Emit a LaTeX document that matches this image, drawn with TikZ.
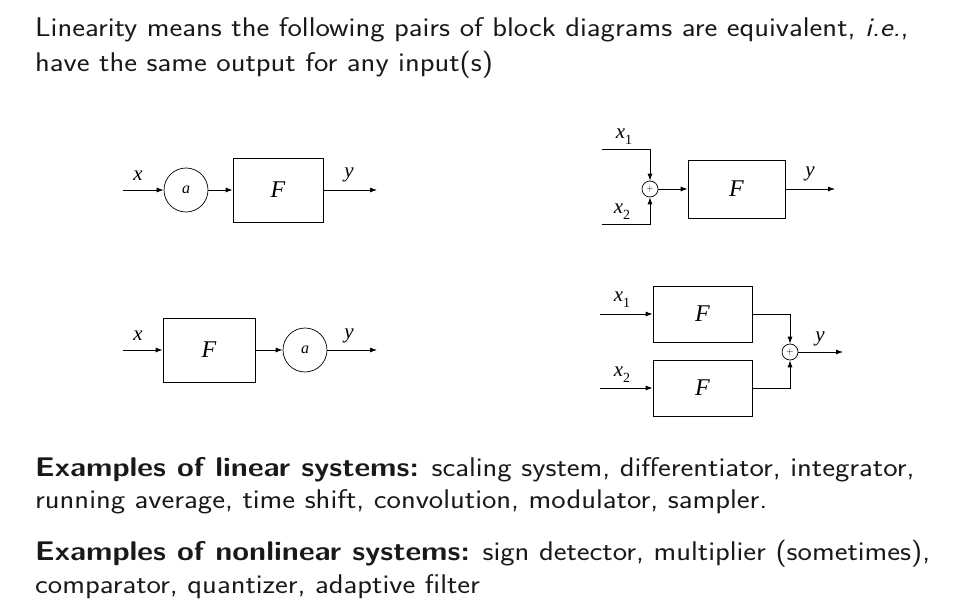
\documentclass[tikz,border=0pt]{standalone}
\usepackage{fontspec}
\newfontfamily\tms{Liberation Serif}
\usetikzlibrary{arrows.meta}
\newcommand{\wide}[1]{\scalebox{1.13}[1]{#1}}
\begin{document}
\begin{tikzpicture}[x=1pt,y=-1pt,
  blk/.style={draw, line width=0.8pt, inner sep=0pt, font=\tms\itshape\fontsize{24}{24}\selectfont},
  gain/.style={draw, circle, minimum size=44pt, inner sep=0pt, line width=0.7pt, font=\tms\itshape\fontsize{16}{16}\selectfont},
  sumn/.style={draw, circle, minimum size=16pt, inner sep=0pt, line width=0.7pt, font=\fontsize{9}{9}\selectfont},
  arr/.style={-{Latex[length=7pt,width=5pt]}, line width=0.8pt},
  lbl/.style={inner sep=0pt, font=\tms\itshape\fontsize{21}{21}\selectfont},
  txt/.style={anchor=base west, inner sep=0pt, text=black!90, font=\sffamily\fontsize{27}{30}\selectfont}]
\useasboundingbox (0,0) rectangle (957,612);
% header text
\node[txt] (t1) at (35,37) {\wide{Linearity means the following pairs of block diagrams are equivalent, \textit{i.e.},}};
\node[txt] (t2) at (35,72) {\wide{have the same output for any input(s)}};
% diagram 1
\coordinate (i1) at (123,190);
\coordinate (o1) at (377,190);
\node[gain] (g1) at (186,190) {a};
\node[blk, minimum width=90pt, minimum height=64pt] (f1) at (278,190) {F};
\draw[arr] (i1) -- (g1);
\draw[arr] (g1) -- (f1);
\draw[arr] (f1) -- (o1);
\node[lbl] (lx1) at (138,176) {x};
\node[lbl] (ly1) at (349,175) {y};
% diagram 2
\coordinate (a2) at (602,149);
\coordinate (b2) at (602,224);
\coordinate (o2) at (835,189);
\node[sumn] (s2) at (650,189) {+};
\node[blk, minimum width=97pt, minimum height=58pt] (f2) at (736.5,189) {F};
\draw[arr] (a2) -| (s2);
\draw[arr] (b2) -| (s2);
\draw[arr] (s2) -- (f2);
\draw[arr] (f2) -- (o2);
\node[lbl] (lx21) at (624,137) {x\raisebox{-0.3em}{\upshape\fontsize{14}{14}\selectfont 1}};
\node[lbl] (lx22) at (622,212) {x\raisebox{-0.3em}{\upshape\fontsize{14}{14}\selectfont 2}};
\node[lbl] (ly2) at (810,174) {y};
% diagram 3
\coordinate (i3) at (123,350);
\coordinate (o3) at (377,350);
\node[blk, minimum width=92pt, minimum height=64pt] (f3) at (209,350) {F};
\node[gain] (g3) at (305,350) {a};
\draw[arr] (i3) -- (f3);
\draw[arr] (f3) -- (g3);
\draw[arr] (g3) -- (o3);
\node[lbl] (lx3) at (138,336) {x};
\node[lbl] (ly3) at (349,336) {y};
% diagram 4
\coordinate (a4) at (600,314);
\coordinate (b4) at (600,388);
\coordinate (o4) at (843,352);
\node[blk, minimum width=99pt, minimum height=56pt] (f4a) at (702.5,314) {F};
\node[blk, minimum width=99pt, minimum height=56pt] (f4b) at (702.5,388) {F};
\node[sumn] (s4) at (790,352) {+};
\draw[arr] (a4) -- (f4a);
\draw[arr] (b4) -- (f4b);
\draw[arr] (f4a) -| (s4);
\draw[arr] (f4b) -| (s4);
\draw[arr] (s4) -- (o4);
\node[lbl] (lx41) at (622,300) {x\raisebox{-0.3em}{\upshape\fontsize{14}{14}\selectfont 1}};
\node[lbl] (lx42) at (622,375) {x\raisebox{-0.3em}{\upshape\fontsize{14}{14}\selectfont 2}};
\node[lbl] (ly4) at (820,339) {y};
% footer text
\node[txt] (t3) at (35,476) {\wide{\textbf{Examples of linear systems:} scaling system, differentiator, integrator,}};
\node[txt] (t4) at (35,508) {\wide{running average, time shift, convolution, modulator, sampler.}};
\node[txt] (t5) at (35,560) {\wide{\textbf{Examples of nonlinear systems:} sign detector, multiplier (sometimes),}};
\node[txt] (t6) at (35,593) {\wide{comparator, quantizer, adaptive filter}};
\end{tikzpicture}
\end{document}
